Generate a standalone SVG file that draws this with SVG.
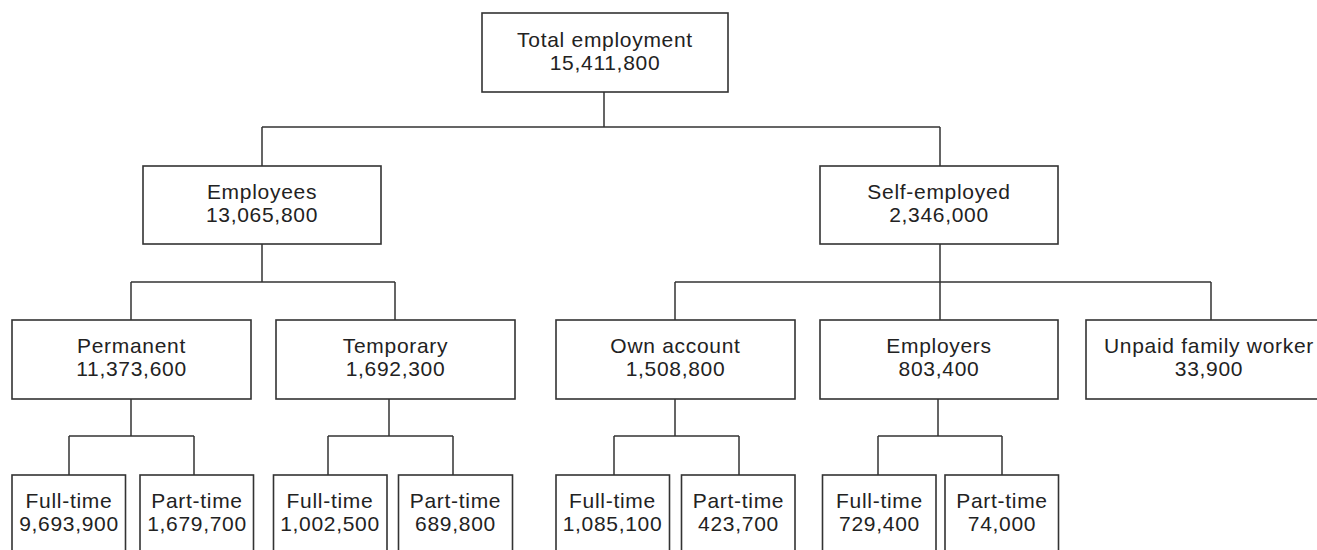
<svg xmlns="http://www.w3.org/2000/svg" width="1317" height="550" viewBox="0 0 1317 550">
<style>
.box{fill:#fff;stroke:#333;stroke-width:1.6}
.ln{fill:none;stroke:#333;stroke-width:1.5}
text{font-family:"Liberation Sans",Arial,sans-serif;font-size:21px;letter-spacing:0.7px;fill:#222;text-anchor:middle}
</style>
<rect width="1317" height="550" fill="#fff"/>
<g id="connectors">
<path class="ln" d="M604,92V127M262,127H940M262,127V166M940,127V166"/>
<path class="ln" d="M262,244V282M131,282H395M131,282V320M395,282V320"/>
<path class="ln" d="M940,244V282M675,282H1211M675,282V320M940,282V320M1211,282V320"/>
<path class="ln" d="M131,399V436M69,436H194M69,436V475M194,436V475"/>
<path class="ln" d="M389,399V436M328,436H453M328,436V475M453,436V475"/>
<path class="ln" d="M675,399V436M614,436H739M614,436V475M739,436V475"/>
<path class="ln" d="M938,399V436M878,436H1002M878,436V475M1002,436V475"/>
</g>
<g id="total"><rect class="box" x="482" y="13" width="246" height="79"/><text x="605" y="46.5">Total employment</text><text x="605" y="69.5">15,411,800</text></g>
<g id="employees"><rect class="box" x="143" y="166" width="238" height="78"/><text x="262" y="199">Employees</text><text x="262" y="222">13,065,800</text></g>
<g id="self-employed"><rect class="box" x="820" y="166" width="238" height="78"/><text x="939" y="199">Self-employed</text><text x="939" y="222">2,346,000</text></g>
<g id="permanent"><rect class="box" x="12" y="320" width="239" height="79"/><text x="131.5" y="353.3">Permanent</text><text x="131.5" y="376.3">11,373,600</text></g>
<g id="temporary"><rect class="box" x="276" y="320" width="239" height="79"/><text x="395.5" y="353.3">Temporary</text><text x="395.5" y="376.3">1,692,300</text></g>
<g id="own-account"><rect class="box" x="556" y="320" width="239" height="79"/><text x="675.5" y="353.3">Own account</text><text x="675.5" y="376.3">1,508,800</text></g>
<g id="employers"><rect class="box" x="820" y="320" width="238" height="79"/><text x="939" y="353.3">Employers</text><text x="939" y="376.3">803,400</text></g>
<g id="unpaid"><rect class="box" x="1086" y="320" width="250" height="79"/><text x="1209" y="353.3">Unpaid family worker</text><text x="1209" y="376.3">33,900</text></g>
<g id="perm-full"><rect class="box" x="12" y="475" width="113.5" height="79"/><text x="69" y="508.3">Full-time</text><text x="69" y="531.3">9,693,900</text></g>
<g id="perm-part"><rect class="box" x="140" y="475" width="113.5" height="79"/><text x="197" y="508.3">Part-time</text><text x="197" y="531.3">1,679,700</text></g>
<g id="temp-full"><rect class="box" x="273.5" y="475" width="113.5" height="79"/><text x="330" y="508.3">Full-time</text><text x="330" y="531.3">1,002,500</text></g>
<g id="temp-part"><rect class="box" x="398.5" y="475" width="114" height="79"/><text x="455.5" y="508.3">Part-time</text><text x="455.5" y="531.3">689,800</text></g>
<g id="own-full"><rect class="box" x="556" y="475" width="113.5" height="79"/><text x="612.5" y="508.3">Full-time</text><text x="612.5" y="531.3">1,085,100</text></g>
<g id="own-part"><rect class="box" x="681.5" y="475" width="113.5" height="79"/><text x="738.5" y="508.3">Part-time</text><text x="738.5" y="531.3">423,700</text></g>
<g id="emp-full"><rect class="box" x="822.5" y="475" width="113.5" height="79"/><text x="879.5" y="508.3">Full-time</text><text x="879.5" y="531.3">729,400</text></g>
<g id="emp-part"><rect class="box" x="945" y="475" width="113.5" height="79"/><text x="1002" y="508.3">Part-time</text><text x="1002" y="531.3">74,000</text></g>
</svg>
